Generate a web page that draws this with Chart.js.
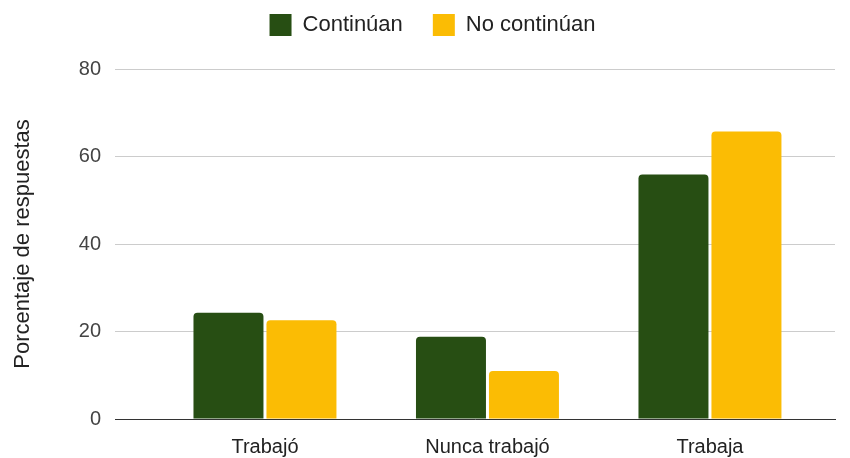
<!DOCTYPE html>
<html>
<head>
    <meta charset="utf-8">
    <title>Continúan / No continúan</title>
    <script src="https://cdn.jsdelivr.net/npm/chart.js"></script>
    <style>
        html, body { margin: 0; padding: 0; background: #fff; }
        #wrap { width: 850px; height: 458px; }
    </style>
</head>
<body>
    <div id="wrap"><canvas id="chart" width="850" height="458"></canvas></div>

    <script>
        const categories = ['Trabajó', 'Nunca trabajó', 'Trabaja'];
        const continuan = [24.3, 18.8, 55.9];
        const noContinuan = [22.6, 11.0, 65.7];
        const yTicks = [0, 20, 40, 60, 80];

        const toPoints = arr => arr.map((v, i) => ({ x: i, y: v }));

        Chart.defaults.font.family = '"Liberation Sans", Arial, sans-serif';
        Chart.defaults.font.size = 20;
        Chart.defaults.color = '#222';

        // legend: extra room below it and a small nudge to the right
        const legendTweak = {
            id: 'legendTweak',
            beforeLayout(chart) {
                const lg = chart.legend;
                if (lg && !lg._tweaked) {
                    const fit = lg.fit;
                    lg.fit = function () { fit.call(this); this.height += 23; };
                    lg._tweaked = true;
                }
            },
            afterLayout(chart) {
                const lg = chart.legend;
                if (lg) { lg.left += 15; lg.right += 15; }
            },
        };

        new Chart(document.getElementById('chart'), {
            type: 'bar',
            plugins: [legendTweak],
            data: {
                datasets: [
                    {
                        label: 'Continúan',
                        data: toPoints(continuan),
                        backgroundColor: '#274e13',
                        borderRadius: 4,
                        categoryPercentage: 0.656,
                        barPercentage: 0.959,
                    },
                    {
                        label: 'No continúan',
                        data: toPoints(noContinuan),
                        backgroundColor: '#fbbc04',
                        borderRadius: 4,
                        categoryPercentage: 0.656,
                        barPercentage: 0.959,
                    },
                ],
            },
            options: {
                responsive: false,
                animation: false,
                layout: { padding: { top: -16, right: 15, left: 0, bottom: 0 } },
                plugins: {
                    legend: {
                        position: 'top',
                        labels: {
                            boxWidth: 22,
                            boxHeight: 22,
                            padding: 30,
                            color: '#222',
                            font: { size: 22 },
                        },
                    },
                    tooltip: { enabled: false },
                },
                scales: {
                    x: {
                        type: 'linear',
                        offset: false,
                        min: -0.674,
                        max: 2.562,
                        grid: { display: false, offset: false },
                        border: { display: true, color: '#333', width: 1 },
                        afterBuildTicks: scale => {
                            scale.ticks = categories.map((c, i) => ({ value: i }));
                        },
                        afterFit: scale => { scale.height = 39; },
                        ticks: {
                            autoSkip: false,
                            maxRotation: 0,
                            padding: 8,
                            color: '#222',
                            callback: v => categories[v],
                        },
                    },
                    y: {
                        min: 0,
                        max: 80,
                        afterBuildTicks: scale => {
                            scale.ticks = yTicks.map(v => ({ value: v }));
                        },
                        afterFit: scale => { scale.width = 115; },
                        grid: { color: '#cccccc', drawTicks: false },
                        border: { display: false },
                        ticks: { padding: 14, color: '#444' },
                        title: {
                            display: true,
                            text: 'Porcentaje de respuestas',
                            color: '#222',
                            font: { size: 22 },
                            padding: { top: 10, bottom: 0 },
                        },
                    },
                },
            },
        });
    </script>
</body>
</html>
